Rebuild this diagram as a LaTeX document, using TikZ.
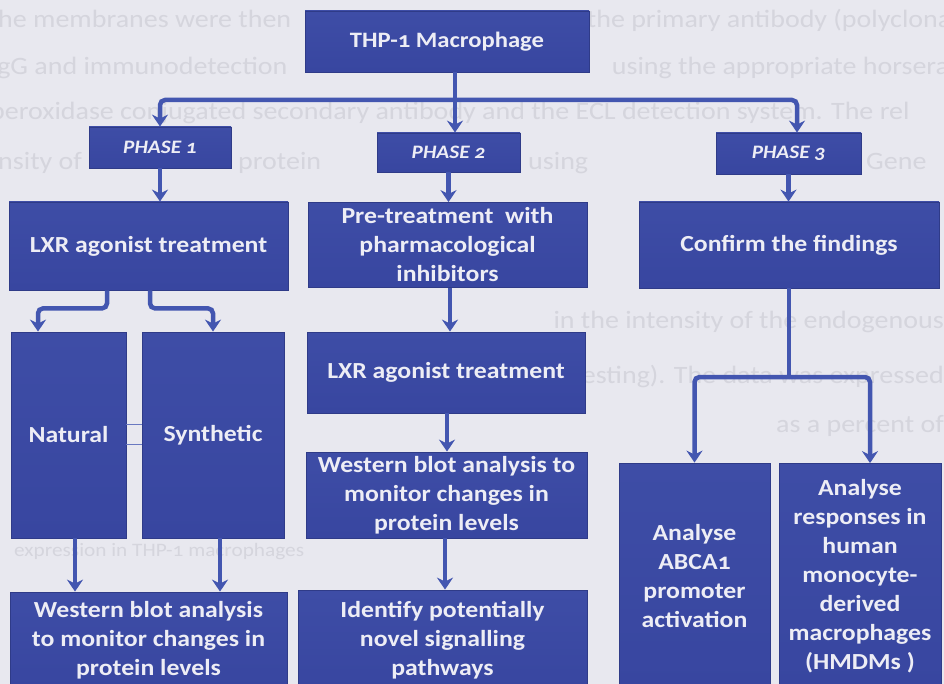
\documentclass[tikz,border=0pt]{standalone}
\usepackage{fontspec}
\setmainfont{Carlito}[Numbers=OldStyle, FakeStretch=1.12]
\usetikzlibrary{arrows.meta}

\definecolor{paper}{HTML}{E8E8EF}
\definecolor{ghost}{HTML}{D5D5DD}
\definecolor{boxblue}{HTML}{3846A0}
\definecolor{boxtop}{HTML}{3E4DA6}
\definecolor{boxedge}{HTML}{2F3B88}
\definecolor{linkblue}{HTML}{4356B0}
\definecolor{labeltext}{HTML}{EDEDF5}

\tikzset{
  flowbox/.style={rectangle, top color=boxtop, bottom color=boxblue, draw=boxedge,
    line width=0.8pt, text=labeltext, align=center, inner sep=0pt,
    font=\bfseries\fontsize{23}{29}\selectfont},
  phasebox/.style={flowbox, font=\bfseries\itshape\fontsize{19}{22}\selectfont},
  link/.style={draw=linkblue, line width=4.5pt, rounded corners=5pt},
  arrowlink/.style={link, -{Stealth[length=12pt,width=16pt,inset=4pt]}},
  hairline/.style={draw=linkblue!80!white, line width=0.7pt},
  ghosttext/.style={text=ghost, font=\fontsize{25}{30}\selectfont, inner sep=0pt, anchor=base west},
  ghostright/.style={ghosttext, anchor=base east},
}

\begin{document}
\begin{tikzpicture}[x=1pt,y=-1pt]
  \useasboundingbox (0,0) rectangle (944,684);
  \clip (0,0) rectangle (944,684);
  \fill[paper] (0,0) rectangle (944,684);

  % faint page text showing through from the reverse side
  \node[ghosttext] (g1a) at (-2,28) {he membranes were then};
  \node[ghostright] (g1b) at (958,28) {the primary antibody (polyclonal};
  \node[ghosttext] (g2a) at (-10,75) {IgG and immunodetection};
  \node[ghostright] (g2b) at (964,75) {using the appropriate horserad};
  \node[ghosttext] (g3) at (-10,120) {peroxidase conjugated secondary antibody and the ECL detection system. The rel};
  \node[ghosttext] (g4a) at (-2,170) {nsity of};
  \node[ghosttext] (g4b) at (238,170) {protein};
  \node[ghosttext] (g4c) at (528,170) {using};
  \node[ghosttext] (g4d) at (866,170) {Gene};
  \node[ghostright] (g7) at (944,328) {in the intensity of the endogenous};
  \node[ghostright] (g8) at (944,383) {testing). The data was expressed};
  \node[ghostright] (g9) at (944,432) {as a percent of};
  \node[ghosttext, font=\fontsize{19}{22}\selectfont] (g11) at (14,556) {expression in THP-1 macrophages};

  % top of the tree
  \node[flowbox, font=\bfseries\fontsize{22}{26}\selectfont,
        minimum width=284pt, minimum height=61pt] (thp) at (447,41.5) {THP-1 Macrophage};
  \node[phasebox, minimum width=142pt, minimum height=41pt] (p1) at (160,147.5) {PHASE 1};
  \node[phasebox, minimum width=143pt, minimum height=39pt] (p2) at (448.5,152.5) {PHASE 2};
  \node[phasebox, minimum width=145pt, minimum height=41pt] (p3) at (788.5,153.5) {PHASE 3};

  % phase 1 column
  \node[flowbox, minimum width=279pt, minimum height=88pt] (lxrA) at (148.5,246) {LXR agonist treatment};
  \node[flowbox, minimum width=115pt, minimum height=206pt] (nat) at (68.5,435) {Natural};
  \node[flowbox, minimum width=142pt, minimum height=206pt] (syn) at (213,435) {Synthetic};
  \node[flowbox, minimum width=277pt, minimum height=96pt] (wbA) at (148.5,640)
    {Western blot analysis\\to monitor changes in\\protein levels};

  % phase 2 column
  \node[flowbox, minimum width=279pt, minimum height=85pt] (pre) at (447.5,245)
    {Pre-treatment~ with\\pharmacological\\inhibitors};
  \node[flowbox, minimum width=278pt, minimum height=81pt] (lxrB) at (446,372.5) {LXR agonist treatment};
  \node[flowbox, minimum width=281pt, minimum height=86pt] (wbB) at (446.5,495)
    {Western blot analysis to\\monitor changes in\\protein levels};
  \node[flowbox, minimum width=289pt, minimum height=100pt] (ident) at (442.5,640)
    {Identify potentially\\novel signalling\\pathways};

  % phase 3 column
  \node[flowbox, minimum width=300pt, minimum height=86pt] (conf) at (789,245) {Confirm the findings};
  \node[flowbox, minimum width=151pt, minimum height=226pt] (abca) at (694.5,576)
    {Analyse\\ABCA1\\promoter\\activation};
  \node[flowbox, minimum width=162pt, minimum height=226pt] (hmdm) at (860,576.5)
    {Analyse\\responses in\\human\\monocyte-\\derived\\macrophages\\(HMDMs )};

  % branching from the cell line to the three phases
  \coordinate (barmid) at (455,100);
  \draw[link] ([xshift=8pt]thp.south) -- (barmid);
  \draw[arrowlink] (barmid) -- ([xshift=6.5pt]p2.north);
  \draw[arrowlink] (barmid) -| (p1.north);
  \draw[arrowlink] (barmid) -| ([xshift=8.5pt]p3.north);

  \draw[arrowlink] (p1.south) -- (p1.south |- lxrA.north);
  \draw[arrowlink] (p2.south) -- (p2.south |- pre.north);
  \draw[arrowlink] (p3.south) -- (p3.south |- conf.north);

  % phase 1 flow
  \draw[arrowlink] ([xshift=-41.5pt]lxrA.south) -- ++(0,18) -| ([xshift=-30.5pt]nat.north);
  \draw[arrowlink] ([xshift=1.5pt]lxrA.south) -- ++(0,18) -| (syn.north);
  \draw[hairline] ([yshift=11pt]nat.east) -- ([yshift=11pt]syn.west);
  \draw[hairline] ([yshift=-9pt]nat.east) -- ([yshift=-9pt]syn.west);
  \draw[arrowlink] ([xshift=6.5pt]nat.south) -- ([xshift=6.5pt]nat.south |- wbA.north);
  \draw[arrowlink] ([xshift=7pt]syn.south) -- ([xshift=7pt]syn.south |- wbA.north);

  % phase 2 flow
  \draw[arrowlink] ([xshift=2.5pt]pre.south) -- ([xshift=2.5pt]pre.south |- lxrB.north);
  \draw[arrowlink] ([xshift=1pt]lxrB.south) -- ([xshift=1pt]lxrB.south |- wbB.north);
  \draw[arrowlink] ([xshift=-1.5pt]wbB.south) -- ([xshift=-1.5pt]wbB.south |- ident.north);

  % phase 3 flow
  \coordinate (split) at (789,377);
  \draw[link] (conf.south) -- (split);
  \draw[arrowlink] (split) -| (abca.north);
  \draw[arrowlink] (split) -| ([xshift=10pt]hmdm.north);
\end{tikzpicture}
\end{document}
